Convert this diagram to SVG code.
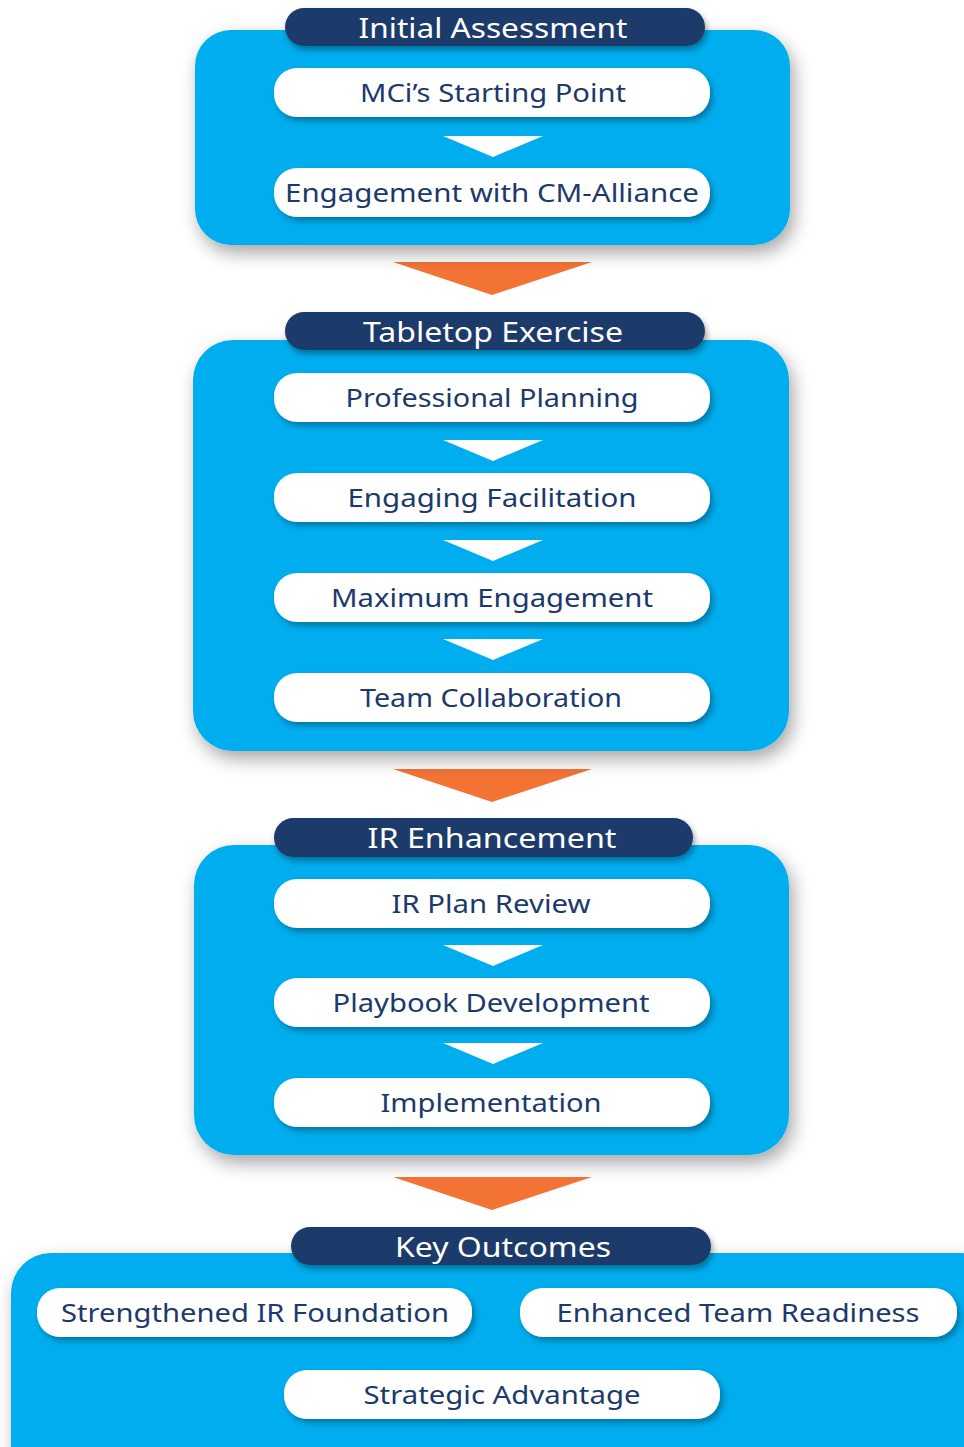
<svg xmlns="http://www.w3.org/2000/svg" width="964" height="1447" viewBox="0 0 964 1447">
<defs>
<filter id="bigShadow" x="-20%" y="-20%" width="140%" height="150%">
<feDropShadow dx="4" dy="8" stdDeviation="9" flood-color="#000" flood-opacity="0.35"/>
</filter>
<filter id="smallShadow" x="-10%" y="-30%" width="120%" height="170%">
<feDropShadow dx="3" dy="4" stdDeviation="3" flood-color="#00324d" flood-opacity="0.45"/>
</filter>
<filter id="headShadow" x="-10%" y="-30%" width="120%" height="170%">
<feDropShadow dx="2" dy="4" stdDeviation="3" flood-color="#000" flood-opacity="0.35"/>
</filter>
<style>
.box{fill:#00AEEF;filter:url(#bigShadow)}
.head{fill:#1B3A6B;filter:url(#headShadow)}
.pill{fill:#FFFFFF;filter:url(#smallShadow)}
.ht{font-family:"Noto Sans","Liberation Sans",sans-serif;font-size:28px;fill:#FFFFFF;text-anchor:middle}
.pt{font-family:"Noto Sans","Liberation Sans",sans-serif;font-size:26px;fill:#1B3A6B;text-anchor:middle}
.wa{fill:#FFFFFF}
.oa{fill:#F37335}
</style>
</defs>
<rect width="964" height="1447" fill="#FFFFFF"/>

<g id="connectors">
<polygon class="oa" points="393,262 592,262 492,295"/>
<polygon class="oa" points="393,769 592,769 492,802"/>
<polygon class="oa" points="393,1177 592,1177 492,1210"/>
</g>

<g id="section1">
<rect class="box" x="195" y="30" width="595" height="215" rx="36"/>
<g id="initial-assessment">
<rect class="head" x="285" y="8" width="420" height="38" rx="19"/>
<text class="ht" x="493" y="38" textLength="269" lengthAdjust="spacingAndGlyphs">Initial Assessment</text>
</g>
<g id="mci-starting-point">
<rect class="pill" x="274" y="68" width="436" height="49" rx="23"/>
<text class="pt" x="493" y="102" textLength="266" lengthAdjust="spacingAndGlyphs">MCi’s Starting Point</text>
</g>
<polygon class="wa" points="443,136 543,136 493,157"/>
<g id="engagement-cm-alliance">
<rect class="pill" x="274" y="168" width="436" height="49" rx="23"/>
<text class="pt" x="492" y="202" textLength="414" lengthAdjust="spacingAndGlyphs">Engagement with CM-Alliance</text>
</g>
</g>

<g id="section2">
<rect class="box" x="193" y="340" width="596" height="411" rx="40"/>
<g id="tabletop-exercise">
<rect class="head" x="285" y="312" width="420" height="38" rx="19"/>
<text class="ht" x="493" y="342" textLength="260" lengthAdjust="spacingAndGlyphs">Tabletop Exercise</text>
</g>
<g id="professional-planning">
<rect class="pill" x="274" y="373" width="436" height="49" rx="23"/>
<text class="pt" x="492" y="407" textLength="293" lengthAdjust="spacingAndGlyphs">Professional Planning</text>
</g>
<polygon class="wa" points="443,440 543,440 493,461"/>
<g id="engaging-facilitation">
<rect class="pill" x="274" y="473" width="436" height="49" rx="23"/>
<text class="pt" x="492" y="507" textLength="289" lengthAdjust="spacingAndGlyphs">Engaging Facilitation</text>
</g>
<polygon class="wa" points="443,540 543,540 493,561"/>
<g id="maximum-engagement">
<rect class="pill" x="274" y="573" width="436" height="49" rx="23"/>
<text class="pt" x="492" y="607" textLength="322" lengthAdjust="spacingAndGlyphs">Maximum Engagement</text>
</g>
<polygon class="wa" points="443,639 543,639 493,660"/>
<g id="team-collaboration">
<rect class="pill" x="274" y="673" width="436" height="49" rx="23"/>
<text class="pt" x="491" y="707" textLength="262" lengthAdjust="spacingAndGlyphs">Team Collaboration</text>
</g>
</g>

<g id="section3">
<rect class="box" x="194" y="845" width="595" height="310" rx="40"/>
<g id="ir-enhancement">
<rect class="head" x="274" y="818" width="419" height="39" rx="19.5"/>
<text class="ht" x="492" y="848" textLength="249" lengthAdjust="spacingAndGlyphs">IR Enhancement</text>
</g>
<g id="ir-plan-review">
<rect class="pill" x="274" y="879" width="436" height="49" rx="23"/>
<text class="pt" x="491" y="913" textLength="199" lengthAdjust="spacingAndGlyphs">IR Plan Review</text>
</g>
<polygon class="wa" points="443,945 543,945 493,966"/>
<g id="playbook-development">
<rect class="pill" x="274" y="978" width="436" height="49" rx="23"/>
<text class="pt" x="491" y="1012" textLength="317" lengthAdjust="spacingAndGlyphs">Playbook Development</text>
</g>
<polygon class="wa" points="443,1043 543,1043 493,1064"/>
<g id="implementation">
<rect class="pill" x="274" y="1078" width="436" height="49" rx="23"/>
<text class="pt" x="491" y="1112" textLength="221" lengthAdjust="spacingAndGlyphs">Implementation</text>
</g>
</g>

<g id="section4">
<rect class="box" x="11" y="1253" width="990" height="240" rx="40"/>
<g id="key-outcomes">
<rect class="head" x="291" y="1227" width="420" height="38" rx="19"/>
<text class="ht" x="503" y="1257" textLength="216" lengthAdjust="spacingAndGlyphs">Key Outcomes</text>
</g>
<g id="strengthened-ir-foundation">
<rect class="pill" x="37" y="1288" width="435" height="49" rx="23"/>
<text class="pt" x="255" y="1322" textLength="388" lengthAdjust="spacingAndGlyphs">Strengthened IR Foundation</text>
</g>
<g id="enhanced-team-readiness">
<rect class="pill" x="520" y="1288" width="437" height="49" rx="23"/>
<text class="pt" x="738" y="1322" textLength="363" lengthAdjust="spacingAndGlyphs">Enhanced Team Readiness</text>
</g>
<g id="strategic-advantage">
<rect class="pill" x="284" y="1370" width="436" height="49" rx="23"/>
<text class="pt" x="502" y="1404" textLength="277" lengthAdjust="spacingAndGlyphs">Strategic Advantage</text>
</g>
</g>
</svg>
